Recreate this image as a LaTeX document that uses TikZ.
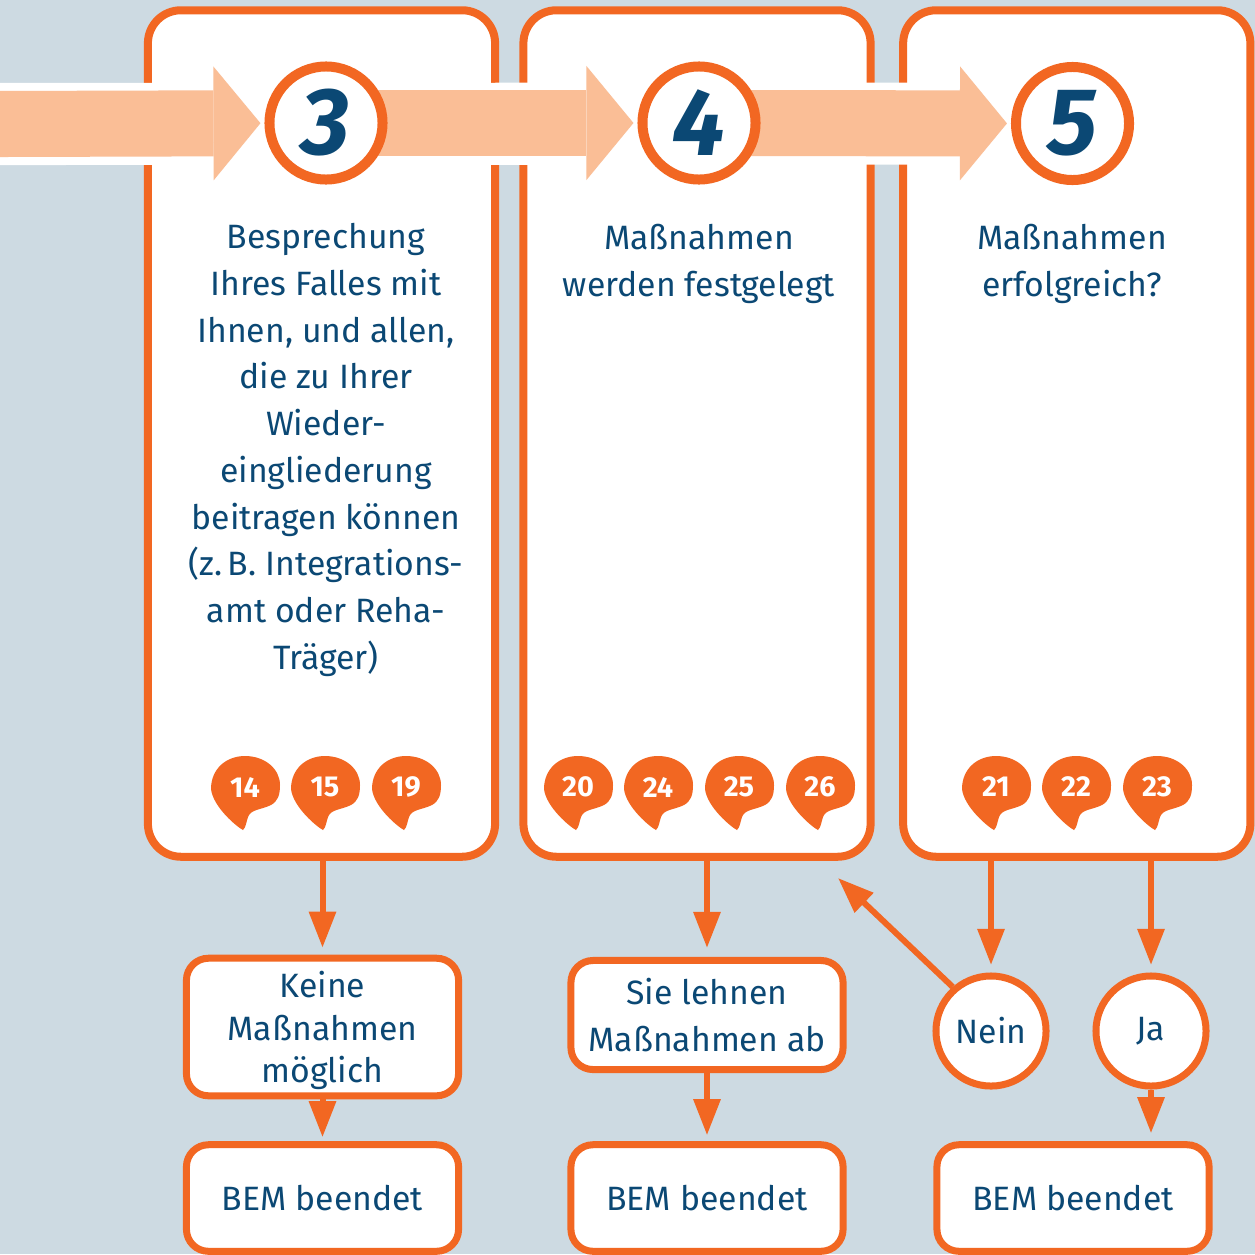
\documentclass[tikz,border=0pt]{standalone}
\usepackage{fontspec}
\setmainfont{Fira Sans}
\usetikzlibrary{arrows.meta}
\definecolor{bemorange}{HTML}{F26722}
\definecolor{bemlight}{HTML}{FABE96}
\definecolor{bemblue}{HTML}{0B4874}
\definecolor{bemgrey}{HTML}{CDDAE2}
\pgfdeclarelayer{back}
\pgfdeclarelayer{mid}
\pgfsetlayers{back,mid,main}

\begin{document}
\begin{tikzpicture}[x=0.01cm,y=-0.01cm,
    column/.style={draw=bemorange,line width=0.08cm,fill=white,rounded corners=0.33cm,
      minimum width=3.47cm,minimum height=8.46cm},
    stepnum/.style={circle,draw=bemorange,line width=0.1cm,fill=white,minimum size=1.13cm,
      inner sep=0pt,text=bemblue,font=\fontsize{27}{30}\selectfont\bfseries\itshape},
    steptext/.style={text=bemblue,align=center,font=\fontsize{9.6}{13.3}\selectfont},
    bubtext/.style={text=white,inner sep=0pt,font=\fontsize{8.2}{10}\selectfont\bfseries},
    outcome/.style={draw=bemorange,line width=0.07cm,fill=white,rounded corners=0.22cm,
      minimum width=2.72cm,text=bemblue,align=center,font=\fontsize{9.6}{13.3}\selectfont},
    answer/.style={circle,draw=bemorange,line width=0.07cm,fill=white,minimum size=1.1cm,
      inner sep=0pt,text=bemblue,font=\fontsize{9.6}{13.3}\selectfont},
    flow/.style={draw=bemorange,line width=0.06cm,-{Triangle[length=0.36cm,width=0.26cm]}},
    band/.style={line width=0.66cm,bemlight,
      -{Triangle[length=0.47cm,width=1.14cm,line width=0pt]},shorten >=0.04cm}]

  \begin{pgfonlayer}{back}
    \fill[bemgrey] (0,0) rectangle (1255,1254);
    \node[column] (col3) at (321.5,433.5) {};
    \node[column] (col4) at (697,433.5) {};
    \node[column] (col5) at (1076.75,433.5) {};
  \end{pgfonlayer}
  \useasboundingbox (0,0) rectangle (1255,1254);

  % step circles
  \node[stepnum] (n3) at (326,123) {3};
  \node[stepnum] (n4) at (699,123) {4};
  \node[stepnum] (n5) at (1072.5,123.5) {5};

  \begin{pgfonlayer}{mid}
    \coordinate (start) at (0,124);
    \draw[white,line width=0.82cm] (start) -- (n5.center);
    \draw[band] (start) -- (n3);
    \draw[band] (n3.center) -- (n4);
    \draw[band] (n4.center) -- (n5);
  \end{pgfonlayer}

  \node[steptext] (t3) at (326,450) {Besprechung\\Ihres Falles mit\\Ihnen, und allen,\\die zu Ihrer\\Wieder-\\eingliederung\\beitragen können\\(z.\,B. Integrations-\\amt oder Reha-\\Träger)};
  \node[steptext] (t4) at (699,264) {Maßnahmen\\werden festgelegt};
  \node[steptext] (t5) at (1072,264) {Maßnahmen\\erfolgreich?};

  % page references
  \foreach \bx/\bn in {245/14,325/15,406/19,578/20,658/24,739/25,820/26,996/21,1076/22,1157/23}{
    \fill[bemorange,shift={(\bx,787)}] (-2,43) .. controls (-8,40) and (-32,20) .. (-34,2)
      .. controls (-34,-18) and (-19,-31) .. (0,-31)
      .. controls (20,-31) and (35,-18) .. (35,-2)
      .. controls (35,8) and (33,14) .. (26,18)
      .. controls (16,23) and (6,22) .. (3,30)
      .. controls (1,36) and (1,40) .. (-2,43) -- cycle;
    \node[bubtext] (b\bn) at (\bx,787) {\bn};
  }

  % outcomes
  \node[outcome,minimum height=1.375cm,text depth=0pt,font=\fontsize{9.6}{12}\selectfont] (k) at (322.5,1027) {Keine\\Maßnahmen\\möglich};
  \node[outcome,minimum height=1.09cm] (s) at (707,1015) {Sie lehnen\\Maßnahmen ab};
  \node[outcome,minimum height=1.065cm] (e1) at (322.5,1198) {BEM beendet};
  \node[outcome,minimum height=1.065cm] (e2) at (707,1198) {BEM beendet};
  \node[outcome,minimum height=1.065cm] (e3) at (1073,1198) {BEM beendet};
  \node[answer] (nein) at (991,1031) {Nein};
  \node[answer] (ja) at (1151,1031) {Ja};
  \coordinate (redo) at (838,878);

  \draw[flow,shorten >=0.07cm] (col3.south -| k.north) -- (k.north);
  \draw[flow,shorten >=0.04cm] (k.south) -- (e1.north);
  \draw[flow,shorten >=0.09cm] (col4.south -| s.north) -- (s.north);
  \draw[flow,shorten >=0.06cm] (s.south) -- (e2.north);
  \draw[flow,shorten >=0.075cm] (col5.south -| nein.north) -- (nein.north);
  \draw[flow,shorten >=0.075cm] (col5.south -| ja.north) -- (ja.north);
  \draw[flow,shorten >=0.08cm] (ja.south) -- (ja.south |- e3.north);
  \draw[flow] (nein.131) -- (redo);
\end{tikzpicture}
\end{document}
